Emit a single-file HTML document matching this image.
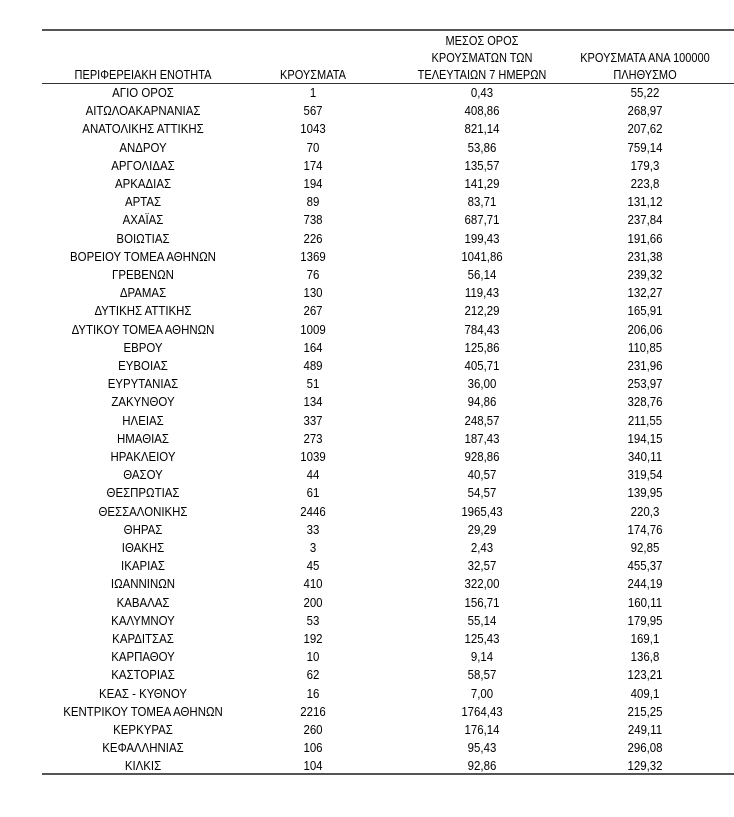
<!DOCTYPE html>
<html><head><meta charset="utf-8"><style>
body{margin:0;width:734px;height:817px;background:#fff;position:relative;overflow:hidden;font-family:"Liberation Sans",sans-serif;color:#000;}
.l{position:absolute;left:42px;width:692px;background:#555;}
.r{position:absolute;left:42px;width:692px;height:18px;font-size:13px;line-height:18px;}
.r span,.h span{position:absolute;transform:translateX(-50%) scaleX(0.88);white-space:nowrap;}
.h{position:absolute;font-size:12.5px;line-height:17px;}
</style></head><body>
<div class="l" style="top:29px;height:2px"></div>
<div class="l" style="top:83px;height:1px;background:#333"></div>
<div class="l" style="top:773px;height:2px"></div>
<div class="h" style="left:0;top:33px;width:734px;height:51px">
<span style="left:482px;top:0">ΜΕΣΟΣ ΟΡΟΣ</span>
<span style="left:482px;top:17px">ΚΡΟΥΣΜΑΤΩΝ ΤΩΝ</span>
<span style="left:645px;top:17px">ΚΡΟΥΣΜΑΤΑ ΑΝΑ 100000</span>
<span style="left:143px;top:34px">ΠΕΡΙΦΕΡΕΙΑΚΗ ΕΝΟΤΗΤΑ</span>
<span style="left:313px;top:34px">ΚΡΟΥΣΜΑΤΑ</span>
<span style="left:482px;top:34px">ΤΕΛΕΥΤΑΙΩΝ 7 ΗΜΕΡΩΝ</span>
<span style="left:645px;top:34px">ΠΛΗΘΥΣΜΟ</span>
</div>
<div id="t"></div>
<script>
var d=[["ΑΓΙΟ ΟΡΟΣ","1","0,43","55,22"],["ΑΙΤΩΛΟΑΚΑΡΝΑΝΙΑΣ","567","408,86","268,97"],["ΑΝΑΤΟΛΙΚΗΣ ΑΤΤΙΚΗΣ","1043","821,14","207,62"],["ΑΝΔΡΟΥ","70","53,86","759,14"],["ΑΡΓΟΛΙΔΑΣ","174","135,57","179,3"],["ΑΡΚΑΔΙΑΣ","194","141,29","223,8"],["ΑΡΤΑΣ","89","83,71","131,12"],["ΑΧΑΪΑΣ","738","687,71","237,84"],["ΒΟΙΩΤΙΑΣ","226","199,43","191,66"],["ΒΟΡΕΙΟΥ ΤΟΜΕΑ ΑΘΗΝΩΝ","1369","1041,86","231,38"],["ΓΡΕΒΕΝΩΝ","76","56,14","239,32"],["ΔΡΑΜΑΣ","130","119,43","132,27"],["ΔΥΤΙΚΗΣ ΑΤΤΙΚΗΣ","267","212,29","165,91"],["ΔΥΤΙΚΟΥ ΤΟΜΕΑ ΑΘΗΝΩΝ","1009","784,43","206,06"],["ΕΒΡΟΥ","164","125,86","110,85"],["ΕΥΒΟΙΑΣ","489","405,71","231,96"],["ΕΥΡΥΤΑΝΙΑΣ","51","36,00","253,97"],["ΖΑΚΥΝΘΟΥ","134","94,86","328,76"],["ΗΛΕΙΑΣ","337","248,57","211,55"],["ΗΜΑΘΙΑΣ","273","187,43","194,15"],["ΗΡΑΚΛΕΙΟΥ","1039","928,86","340,11"],["ΘΑΣΟΥ","44","40,57","319,54"],["ΘΕΣΠΡΩΤΙΑΣ","61","54,57","139,95"],["ΘΕΣΣΑΛΟΝΙΚΗΣ","2446","1965,43","220,3"],["ΘΗΡΑΣ","33","29,29","174,76"],["ΙΘΑΚΗΣ","3","2,43","92,85"],["ΙΚΑΡΙΑΣ","45","32,57","455,37"],["ΙΩΑΝΝΙΝΩΝ","410","322,00","244,19"],["ΚΑΒΑΛΑΣ","200","156,71","160,11"],["ΚΑΛΥΜΝΟΥ","53","55,14","179,95"],["ΚΑΡΔΙΤΣΑΣ","192","125,43","169,1"],["ΚΑΡΠΑΘΟΥ","10","9,14","136,8"],["ΚΑΣΤΟΡΙΑΣ","62","58,57","123,21"],["ΚΕΑΣ - ΚΥΘΝΟΥ","16","7,00","409,1"],["ΚΕΝΤΡΙΚΟΥ ΤΟΜΕΑ ΑΘΗΝΩΝ","2216","1764,43","215,25"],["ΚΕΡΚΥΡΑΣ","260","176,14","249,11"],["ΚΕΦΑΛΛΗΝΙΑΣ","106","95,43","296,08"],["ΚΙΛΚΙΣ","104","92,86","129,32"]];
var x=[101,271,440,603],h="";
d.forEach(function(r,i){h+='<div class="r" style="top:'+(84+i*18.2).toFixed(1)+'px">';r.forEach(function(c,j){h+='<span style="left:'+x[j]+'px">'+c+'</span>'});h+='</div>'});
document.getElementById('t').innerHTML=h;
</script>
</body></html>
